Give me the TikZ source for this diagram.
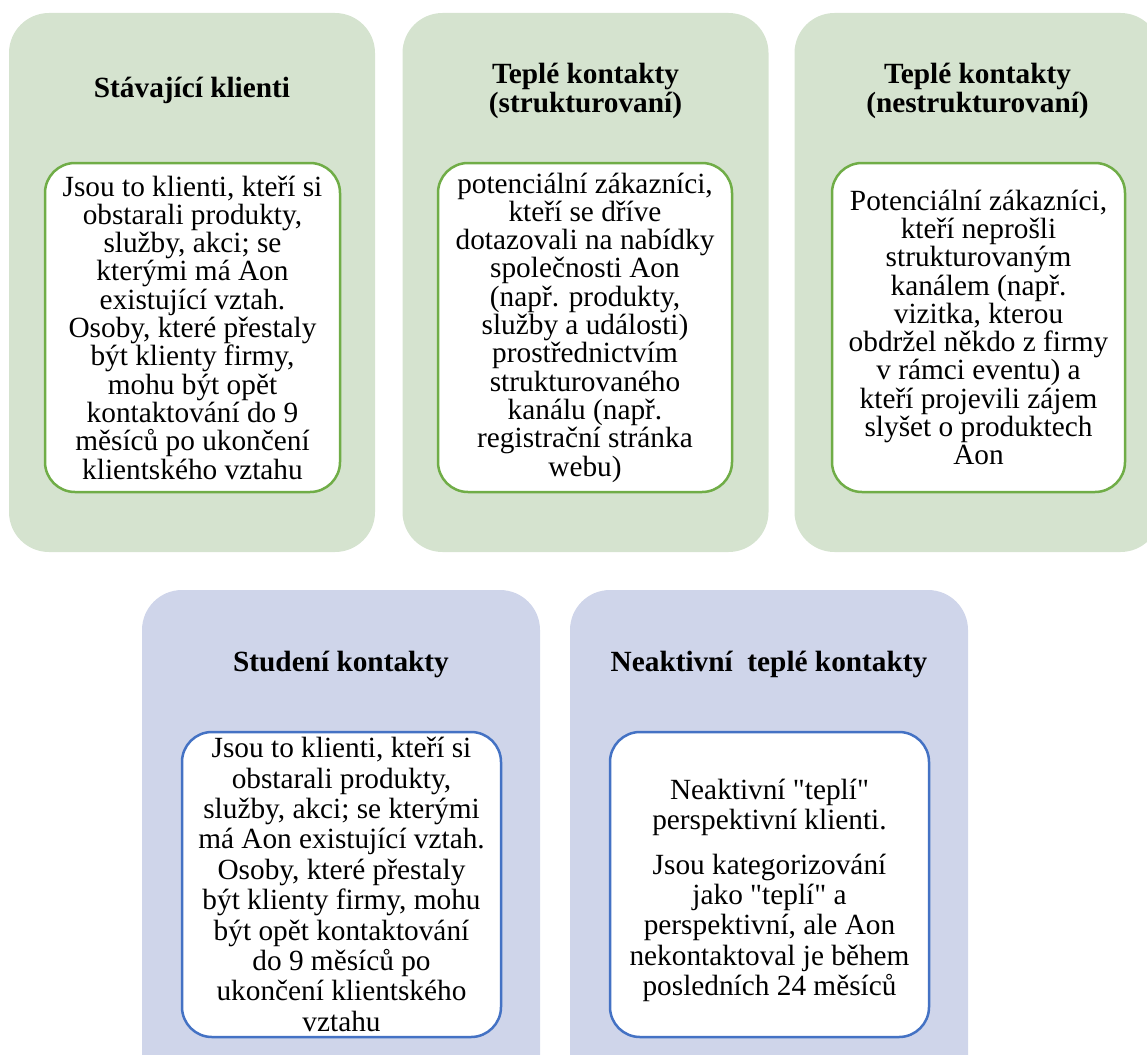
\documentclass[tikz,border=0pt]{standalone}
\usepackage{fontspec}
\setmainfont{Liberation Serif}
\usetikzlibrary{positioning}

\definecolor{greenfill}{HTML}{D5E3CF}
\definecolor{greenline}{HTML}{70AD47}
\definecolor{bluefill}{HTML}{CFD5EA}
\definecolor{blueline}{HTML}{4472C4}

% straight double quote, past the tex-text mapping
\newcommand{\straightq}{\XeTeXglyph\XeTeXcharglyph"22\relax}

\tikzset{
  outerbox/.style={rectangle, rounded corners=40pt, minimum width=366pt, minimum height=539pt, inner sep=0pt},
  innerbox/.style={rectangle, rounded corners=30pt, fill=white, line width=2.5pt, align=center, inner sep=0pt},
  headline/.style={align=center, font=\fontsize{29.3}{28.5}\selectfont\bfseries},
}

\begin{document}
\begin{tikzpicture}[x=1pt, y=-1pt]
\useasboundingbox (0,0) rectangle (1147,1054);

% top row
\begin{scope}[font=\fontsize{29.3}{28.3}\selectfont]
  \node[outerbox, fill=greenfill] (outer0) at ( 192.0, 282.5) {};
  \node[outerbox, fill=greenfill] (outer1) at ( 585.5, 282.5) {};
  \node[outerbox, fill=greenfill] (outer2) at ( 977.5, 282.5) {};

  \node[headline] (head0) at ( 192.0,  90.0) {Stávající klienti};
  \node[headline] (head1) at ( 585.5,  91.0) {Teplé kontakty\\(strukturovaní)};
  \node[headline] (head2) at ( 977.5,  91.0) {Teplé kontakty\\(nestrukturovaní)};

  \node[innerbox, draw=greenline, minimum width=295pt, minimum height=329pt] (text0) at ( 192.5, 327.5)
    {Jsou to klienti, kteří si\\obstarali produkty,\\služby, akci; se\\kterými má Aon\\existující vztah.\\Osoby, které přestaly\\být klienty firmy,\\mohu být opět\\kontaktování do 9\\měsíců po ukončení\\klientského vztahu};
  \node[innerbox, draw=greenline, minimum width=294pt, minimum height=329pt] (text1) at ( 585.0, 327.5)
    {potenciální zákazníci,\\kteří se dříve\\dotazovali na nabídky\\společnosti Aon\\(např. produkty,\\služby a události)\\prostřednictvím\\strukturovaného\\kanálu (např.\\registrační stránka\\webu)};
  \node[innerbox, draw=greenline, minimum width=293pt, minimum height=329pt] (text2) at ( 978.5, 327.5)
    {Potenciální zákazníci,\\kteří neprošli\\strukturovaným\\kanálem (např.\\vizitka, kterou\\obdržel někdo z firmy\\v rámci eventu) a\\kteří projevili zájem\\slyšet o produktech\\Aon};
\end{scope}

% bottom row
\begin{scope}[font=\fontsize{29.3}{30.4}\selectfont]
  \node[outerbox, fill=bluefill, minimum width=398pt] (outer3) at ( 341.0, 859.5) {};
  \node[outerbox, fill=bluefill, minimum width=398pt] (outer4) at ( 769.0, 859.5) {};

  \node[headline] (head3) at ( 341.0, 664.0) {Studení kontakty};
  \node[headline] (head4) at ( 769.0, 664.0) {Neaktivní\ \ teplé kontakty};

  \node[innerbox, draw=blueline, minimum width=319pt, minimum height=305pt] (text3) at ( 341.5, 884.5)
    {Jsou to klienti, kteří si\\obstarali produkty,\\služby, akci; se kterými\\má Aon existující vztah.\\Osoby, které přestaly\\být klienty firmy, mohu\\být opět kontaktování\\do 9 měsíců po\\ukončení klientského\\vztahu};
  \node[innerbox, draw=blueline, minimum width=319pt, minimum height=305pt] (box4) at ( 769.5, 884.5) {};
  \node[align=center, inner sep=0pt] (text4) at ( 769.5, 890.5)
    {Neaktivní \straightq teplí\straightq\\perspektivní klienti.\\[14pt]Jsou kategorizování\\jako \straightq teplí\straightq{} a\\perspektivní, ale Aon\\nekontaktoval je během\\posledních 24 měsíců};
\end{scope}

\end{tikzpicture}
\end{document}
